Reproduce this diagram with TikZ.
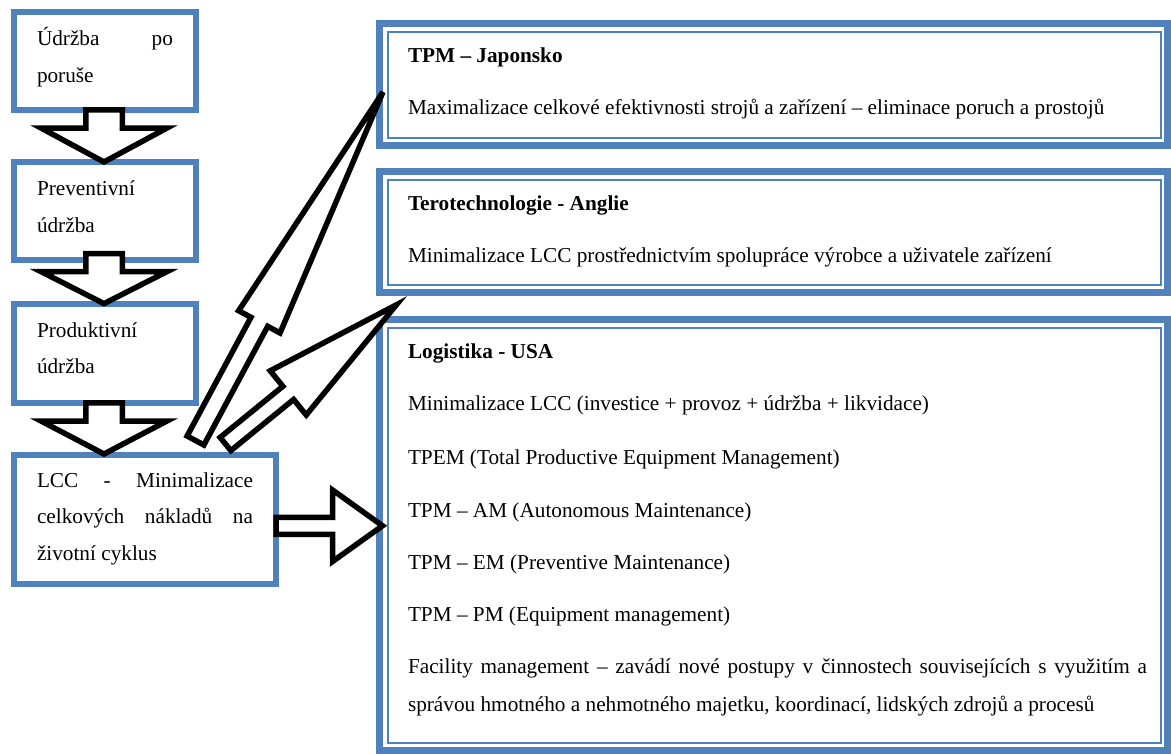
\documentclass[tikz,border=0pt]{standalone}
\usepackage{fontspec}
\setmainfont{Liberation Serif}
\usetikzlibrary{calc}
\definecolor{frameblue}{HTML}{4F81BD}

% Block arrow from tail point #2 to tip #3:
% #4 half shaft width, #5 half head width, #6 head length
\newcommand\blockarrow[6]{%
  \coordinate (#1-base) at ($(#3)!#6!(#2)$);
  \draw[blockarrowline]
    ($(#2)!#4!90:(#3)$) -- ($(#1-base)!#4!-90:(#2)$) -- ($(#1-base)!#5!-90:(#2)$)
    -- (#3)
    -- ($(#1-base)!#5!90:(#2)$) -- ($(#1-base)!#4!90:(#2)$) -- ($(#2)!#4!-90:(#3)$) -- cycle;
}

\tikzset{
  lbox/.style={draw=frameblue, line width=6pt, fill=white, inner sep=0pt, outer sep=0pt},
  rbox/.style={draw=frameblue, line width=7pt, fill=white, inner sep=0pt, outer sep=0pt},
  rinner/.style={draw=frameblue, line width=2pt},
  blockarrowline/.style={draw=black, fill=white, line width=5.5pt, line join=miter},
  txt/.style={anchor=base west, inner sep=0pt, outer sep=0pt,
    font=\fontsize{21.25pt}{25pt}\selectfont},
  ttl/.style={txt, font=\fontsize{21.25pt}{25pt}\selectfont\bfseries},
}

\begin{document}
\begin{tikzpicture}[x=1pt, y=-1pt]
\useasboundingbox (0,0) rectangle (1171,753);

% left column of maintenance stages
\node[lbox, minimum width=182pt, minimum height=98pt] (b1) at (105,61) {};
\node[lbox, minimum width=182pt, minimum height=98pt] (b2) at (105,211) {};
\node[lbox, minimum width=182pt, minimum height=99pt] (b3) at (105,353.5) {};
\node[lbox, minimum width=262pt, minimum height=129pt] (b4) at (145,519.5) {};

% right column of approaches
\node[rbox, minimum width=788pt, minimum height=122pt] (A) at (773.5,84.5) {};
\node[rbox, minimum width=788pt, minimum height=121pt] (B) at (773.5,232) {};
\node[rbox, minimum width=788pt, minimum height=430.5pt] (C) at (773.5,534.75) {};
\foreach \bx in {A,B,C}
  \draw[rinner] ([shift={(8,8.5)}]\bx.north west) rectangle ([shift={(-7,-7.5)}]\bx.south east);

% texts of the left column
\node[txt] (t1a) at (37,45) {\makebox[136pt][s]{Údržba po}};
\node[txt] (t1b) at (37,82) {poruše};
\node[txt] (t2a) at (37,195) {Preventivní};
\node[txt] (t2b) at (37,232) {údržba};
\node[txt] (t3a) at (37,337) {Produktivní};
\node[txt] (t3b) at (37,373) {údržba};
\node[txt] (t4a) at (37,487) {\makebox[216pt][s]{LCC - Minimalizace}};
\node[txt] (t4b) at (37,523) {\makebox[216pt][s]{celkových nákladů na}};
\node[txt] (t4c) at (37,560) {životní cyklus};

% texts of the right column
\node[ttl] (ta1) at (408,62) {TPM – Japonsko};
\node[txt] (ta2) at (408,114) {Maximalizace celkové efektivnosti strojů a zařízení – eliminace poruch a prostojů};
\node[ttl] (tb1) at (408,210) {Terotechnologie - Anglie};
\node[txt] (tb2) at (408,262) {Minimalizace LCC prostřednictvím spolupráce výrobce a uživatele zařízení};
\node[ttl] (tc1) at (408,358) {Logistika - USA};
\node[txt] (tc2) at (408,410) {Minimalizace LCC (investice + provoz + údržba + likvidace)};
\node[txt] (tc3) at (408,464) {TPEM (Total Productive Equipment Management)};
\node[txt] (tc4) at (408,517) {TPM – AM (Autonomous Maintenance)};
\node[txt] (tc5) at (408,569) {TPM – EM (Preventive Maintenance)};
\node[txt] (tc6) at (408,621) {TPM – PM (Equipment management)};
\node[txt] (tc7) at (408,673) {\makebox[739pt][s]{Facility management – zavádí nové postupy v činnostech souvisejících s využitím a}};
\node[txt] (tc8) at (408,711) {správou hmotného a nehmotného majetku, koordinací, lidských zdrojů a procesů};

% arrow end points
\coordinate (a1s) at (104,109.75);  \coordinate (a1e) at (104,162);
\coordinate (a2s) at (104,253.5);   \coordinate (a2e) at (104,303.6);
\coordinate (a3s) at (104,402.75);  \coordinate (a3e) at (104,454);
\coordinate (d1s) at (195.5,440.5); \coordinate (d1e) at (383,92);
\coordinate (d2s) at (225.5,444);   \coordinate (d2e) at (396.4,304.8);
\coordinate (r1s) at (276,525.75);  \coordinate (r1e) at (382.5,525.75);

% stage-to-stage arrows
\blockarrow{a1}{a1s}{a1e}{18.25pt}{63pt}{34pt}
\blockarrow{a2}{a2s}{a2e}{18.25pt}{63pt}{32pt}
\blockarrow{a3}{a3s}{a3e}{18.25pt}{63pt}{33pt}

% LCC towards the three approaches
\blockarrow{d1}{d1s}{d1e}{9.5pt}{23.5pt}{261pt}
\blockarrow{d2}{d2s}{d2e}{8.5pt}{28.5pt}{139.5pt}
\blockarrow{r1}{r1s}{r1e}{8.5pt}{35.8pt}{50pt}
\end{tikzpicture}
\end{document}
